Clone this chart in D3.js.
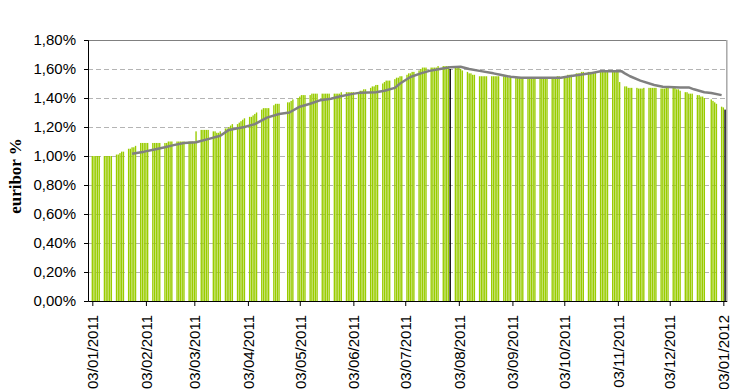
<!DOCTYPE html>
<html>
<head>
<meta charset="utf-8">
<script src="https://cdn.jsdelivr.net/npm/d3@7"></script>
<style>
    body { margin: 0; background: #fff; }
    text { font-family: 'Liberation Sans', Arial, sans-serif; }
</style>
</head>
<body>
<div id="chart"></div>
<script>
// daily 3 month euribor values, one per business day of each month
const jan = [1.00, 1.00, 1.00, 1.00, 1.00, 1.00, 1.00, 1.00, 1.00, 1.00, 1.01, 1.01, 1.02, 1.03, 1.03, 1.05, 1.05, 1.06, 1.06, 1.07, 1.09];
const feb = [1.09, 1.09, 1.09, 1.09, 1.09, 1.09, 1.09, 1.09, 1.09, 1.09, 1.09, 1.10, 1.10, 1.10, 1.10, 1.10, 1.10, 1.10, 1.10, 1.10];
const mar = [1.10, 1.10, 1.10, 1.17, 1.18, 1.18, 1.18, 1.18, 1.18, 1.17, 1.17, 1.16, 1.16, 1.17, 1.19, 1.19, 1.20, 1.21, 1.22, 1.22, 1.23, 1.24, 1.25];
const apr = [1.26, 1.27, 1.27, 1.28, 1.29, 1.30, 1.32, 1.33, 1.33, 1.33, 1.33, 1.35, 1.36, 1.36, 1.36, 1.37, 1.37, 1.38, 1.39];
const may = [1.40, 1.41, 1.42, 1.42, 1.42, 1.42, 1.43, 1.43, 1.43, 1.43, 1.43, 1.43, 1.43, 1.43, 1.43, 1.43, 1.43, 1.43, 1.43, 1.44, 1.44, 1.44];
const jun = [1.44, 1.44, 1.44, 1.44, 1.45, 1.45, 1.46, 1.46, 1.47, 1.48, 1.48, 1.49, 1.49, 1.50, 1.51, 1.52, 1.52, 1.52, 1.53, 1.54, 1.54, 1.55];
const jul = [1.55, 1.56, 1.57, 1.57, 1.58, 1.58, 1.59, 1.60, 1.61, 1.61, 1.61, 1.61, 1.61, 1.61, 1.61, 1.62, 1.62, 1.62, 1.62, 1.62, 1.60];
const aug = [1.615, 1.615, 1.61, 1.60, 1.59, 1.58, 1.57, 1.57, 1.56, 1.56, 1.55, 1.55, 1.55, 1.55, 1.55, 1.55, 1.55, 1.55, 1.55, 1.55, 1.55, 1.55, 1.55];
const sep = [1.54, 1.54, 1.54, 1.54, 1.54, 1.54, 1.54, 1.54, 1.54, 1.54, 1.54, 1.54, 1.54, 1.54, 1.54, 1.54, 1.54, 1.54, 1.54, 1.54, 1.55, 1.55];
const oct = [1.55, 1.55, 1.56, 1.56, 1.56, 1.57, 1.57, 1.57, 1.58, 1.58, 1.58, 1.58, 1.58, 1.58, 1.58, 1.59, 1.59, 1.59, 1.59, 1.59, 1.59];
const nov = [1.59, 1.59, 1.58, 1.51, 1.48, 1.48, 1.47, 1.47, 1.47, 1.47, 1.465, 1.465, 1.465, 1.47, 1.47, 1.47, 1.47, 1.47, 1.47, 1.465, 1.465, 1.465];
const dec = [1.47, 1.47, 1.47, 1.47, 1.46, 1.46, 1.45, 1.44, 1.44, 1.43, 1.43, 1.43, 1.42, 1.42, 1.41, 1.41, 1.40, 1.39, 1.38, 1.37, 1.36];
const jan12 = [1.34, 1.335, 1.32];

const holidays = ['2011-04-22', '2011-04-25', '2011-12-26'];
const highlighted = ['2011-07-29', '2012-01-04'];

// grey average line
const avgDates = ['2011-01-26', '2011-02-02', '2011-02-08', '2011-02-14', '2011-02-19', '2011-02-25', '2011-03-04',
    '2011-03-12', '2011-03-18', '2011-03-23', '2011-04-01', '2011-04-07', '2011-04-14', '2011-04-21', '2011-04-27',
    '2011-05-03', '2011-05-09', '2011-05-15', '2011-05-21', '2011-05-26', '2011-06-01', '2011-06-07', '2011-06-16',
    '2011-06-21', '2011-06-27', '2011-06-30', '2011-07-06', '2011-07-12', '2011-07-17', '2011-07-23', '2011-07-29',
    '2011-08-04', '2011-08-09', '2011-08-15', '2011-08-23', '2011-08-27', '2011-09-02', '2011-09-08', '2011-09-19',
    '2011-10-01', '2011-10-06', '2011-10-12', '2011-10-18', '2011-10-24', '2011-11-05', '2011-11-07', '2011-11-10',
    '2011-11-16', '2011-11-24', '2011-11-29', '2011-12-09', '2011-12-14', '2011-12-17', '2011-12-23', '2011-12-27',
    '2012-01-02'];
const avgValues = [1.015, 1.03, 1.045, 1.06, 1.075, 1.09, 1.095,
    1.12, 1.14, 1.18, 1.20, 1.22, 1.265, 1.29, 1.30,
    1.34, 1.36, 1.385, 1.395, 1.41, 1.425, 1.437, 1.44,
    1.45, 1.47, 1.50, 1.545, 1.57, 1.587, 1.60, 1.612,
    1.615, 1.60, 1.587, 1.57, 1.56, 1.546, 1.54, 1.54,
    1.54, 1.55, 1.56, 1.57, 1.585, 1.585, 1.57, 1.55,
    1.52, 1.49, 1.477, 1.473, 1.473, 1.46, 1.44, 1.435,
    1.42];

const xTickLabels = ['03/01/2011', '03/02/2011', '03/03/2011', '03/04/2011', '03/05/2011', '03/06/2011', '03/07/2011',
    '03/08/2011', '03/09/2011', '03/10/2011', '03/11/2011', '03/12/2011', '03/01/2012'];
const yTicks = [0, 0.2, 0.4, 0.6, 0.8, 1.0, 1.2, 1.4, 1.6, 1.8];

const width = 740, height = 389;
const plot = {left: 88, right: 726.8, top: 40, bottom: 301};

const iso = d3.timeFormat('%Y-%m-%d');
const parseIso = d3.timeParse('%Y-%m-%d');
const parseLabel = d3.timeParse('%d/%m/%Y');

const values = [].concat(jan, feb, mar, apr, may, jun, jul, aug, sep, oct, nov, dec, jan12);
const days = d3.timeDay.range(new Date(2011, 0, 3), new Date(2012, 0, 5))
    .filter(d => d.getDay() % 6 !== 0 && !holidays.includes(iso(d)));
const bars = days.map((d, i) => ({date: d, value: values[i]})).filter(d => d.value !== undefined);

const x = d3.scaleTime()
    .domain([new Date(2010, 11, 31, 12), new Date(2012, 0, 5)])
    .range([plot.left, plot.right]);

const y = d3.scaleLinear()
    .domain([0, 1.8])
    .range([plot.bottom, plot.top]);

const svg = d3.select('#chart').append('svg')
    .attr('width', width)
    .attr('height', height);

// dashed grid
svg.append('g')
    .selectAll('line')
    .data(yTicks.filter(t => t > 0 && t < 1.8))
    .enter()
    .append('line')
    .attr('x1', plot.left)
    .attr('x2', plot.right)
    .attr('y1', d => Math.round(y(d)) + 0.5)
    .attr('y2', d => Math.round(y(d)) + 0.5)
    .attr('stroke', '#b4b4b4')
    .attr('stroke-dasharray', '5,3');

// plot frame top and right
svg.append('line')
    .attr('x1', plot.left).attr('x2', plot.right)
    .attr('y1', plot.top + 0.5).attr('y2', plot.top + 0.5)
    .attr('stroke', '#808080');
svg.append('line')
    .attr('x1', plot.right).attr('x2', plot.right)
    .attr('y1', plot.top).attr('y2', plot.bottom)
    .attr('stroke', '#a8a8a8')
    .attr('stroke-width', 1.5);

const dayW = x(new Date(2011, 0, 4)) - x(new Date(2011, 0, 3));
const barW = dayW * 0.8;

svg.append('g')
    .selectAll('rect')
    .data(bars)
    .enter()
    .append('rect')
    .attr('x', d => x(d.date) - barW / 2)
    .attr('y', d => y(d.value))
    .attr('width', barW)
    .attr('height', d => y(0) - y(d.value))
    .attr('fill', d => highlighted.includes(iso(d.date)) ? '#000' : '#99cc00');

const line = d3.line()
    .x(d => x(d.date))
    .y(d => y(d.value));

svg.append('path')
    .datum(avgDates.map((d, i) => ({date: parseIso(d), value: avgValues[i]})))
    .attr('fill', 'none')
    .attr('stroke', '#808080')
    .attr('stroke-width', 2.5)
    .attr('stroke-linejoin', 'round')
    .attr('d', line);

// axes
const yAxis = svg.append('g')
    .attr('transform', 'translate(' + plot.left + ',0)')
    .call(d3.axisLeft(y)
        .tickValues(yTicks)
        .tickSize(4)
        .tickPadding(8)
        .tickFormat(d => d.toFixed(2).replace('.', ',') + '%'));
yAxis.select('.domain').attr('stroke', '#000');
yAxis.selectAll('text')
    .style('font-size', '15px')
    .attr('fill', '#000');

const xAxis = svg.append('g')
    .attr('transform', 'translate(0,' + plot.bottom + ')')
    .call(d3.axisBottom(x)
        .tickValues(xTickLabels.map(parseLabel))
        .tickSize(5)
        .tickSizeOuter(0)
        .tickFormat(d3.timeFormat('%d/%m/%Y')));
xAxis.select('.domain').attr('stroke', '#000');
xAxis.selectAll('text')
    .style('font-size', '15px')
    .attr('fill', '#000')
    .attr('text-anchor', 'end')
    .attr('transform', 'rotate(-90)')
    .attr('x', -14)
    .attr('y', 0)
    .attr('dy', '0.35em');

svg.append('text')
    .attr('transform', 'translate(21, 176) rotate(-90)')
    .attr('text-anchor', 'middle')
    .style('font-family', "'Liberation Serif', 'Times New Roman', serif")
    .style('font-size', '17px')
    .style('font-weight', 'bold')
    .text('euribor %');
</script>
</body>
</html>
